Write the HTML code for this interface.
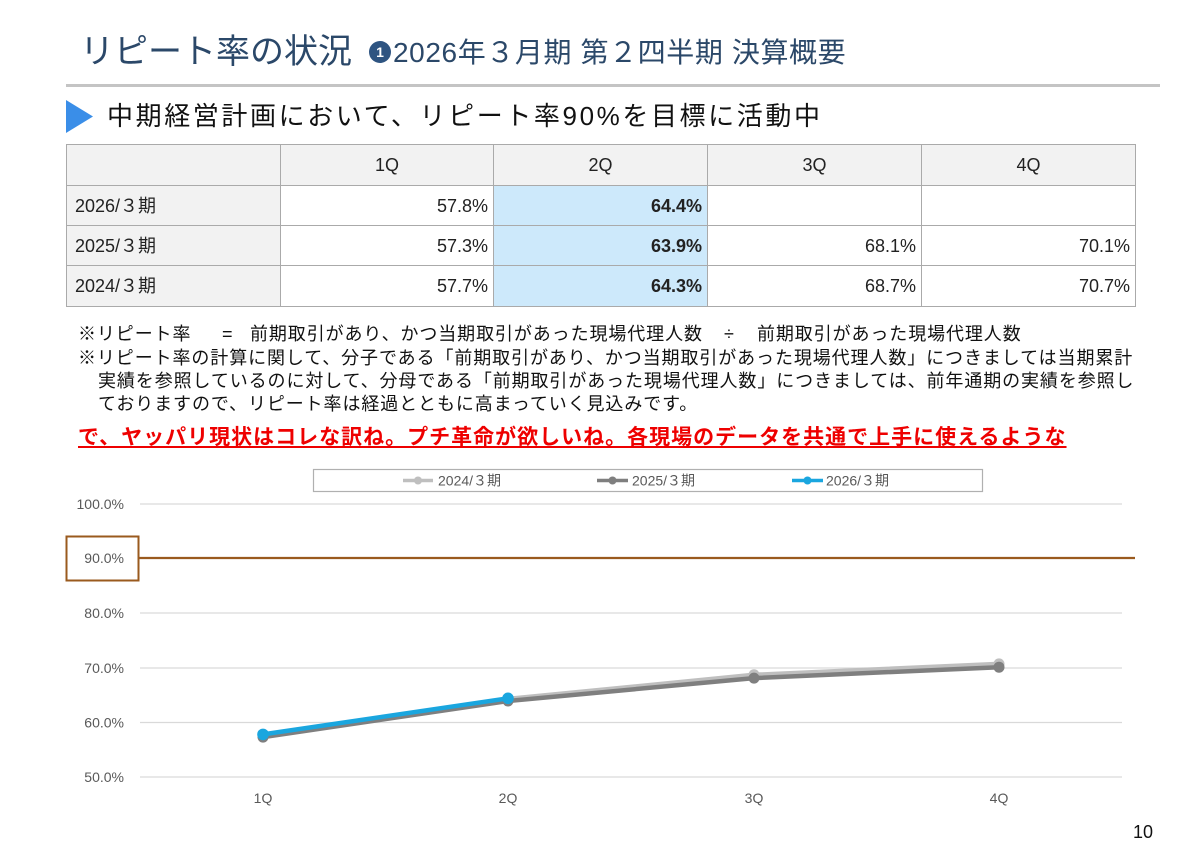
<!DOCTYPE html>
<html lang="ja">
<head>
<meta charset="utf-8">
<style>
  html,body{margin:0;padding:0;background:#fff;}
  #page{position:relative;width:1200px;height:849px;overflow:hidden;background:#fff;
    font-family:"Liberation Sans","Noto Sans CJK JP",sans-serif;color:#222;}
  .abs{position:absolute;white-space:nowrap;}
  .title{left:80px;top:30px;font-size:34px;line-height:44px;color:#2b4869;}
  .sub{left:393px;top:34px;font-size:28px;line-height:38px;color:#2b4869;letter-spacing:0.6px;}
  .circ{position:absolute;left:369px;top:41px;width:22px;height:22px;border-radius:50%;background:#2e5481;
    color:#fff;font-size:14px;font-weight:bold;line-height:22px;text-align:center;}
  .rule{position:absolute;left:66px;top:84px;width:1094px;height:3px;background:#c4c4c4;}
  .head2{left:107px;top:99px;font-size:26px;line-height:34px;color:#111;letter-spacing:2.6px;}
  table{position:absolute;left:66px;top:144px;border-collapse:collapse;table-layout:fixed;}
  td{border:1.5px solid #aaaaaa;font-size:18px;padding:0 5px;height:38px;line-height:38px;color:#222;overflow:hidden;white-space:nowrap;}
  td.h{background:#f2f2f2;text-align:center;}
  td.l{background:#f2f2f2;text-align:left;padding-left:8px;}
  td.n{text-align:right;background:#fff;}
  td.b{text-align:right;background:#cde9fb;font-weight:bold;}
  .note{font-size:18px;line-height:24px;color:#111;letter-spacing:0.9px;}
  .red{left:78px;top:424px;font-size:21px;line-height:28px;color:#ee0000;font-weight:bold;letter-spacing:1px;
    text-decoration:underline;text-decoration-thickness:2px;text-underline-offset:2px;}
  svg{position:absolute;left:0;top:0;}
</style>
</head>
<body>
<div id="page">
  <div class="abs title">リピート率の状況</div>
  <div class="circ">1</div>
  <div class="abs sub">2026年３月期 第２四半期 決算概要</div>
  <div class="rule"></div>

  <svg width="1200" height="849" viewBox="0 0 1200 849">
    <polygon points="66,100 93,116.5 66,133" fill="#3a8ee8"/>
  </svg>
  <div class="abs head2">中期経営計画において、リピート率90%を目標に活動中</div>

  <table>
    <colgroup><col style="width:214px"><col style="width:213px"><col style="width:214px"><col style="width:214px"><col style="width:214px"></colgroup>
    <tr style="height:41px"><td class="h"></td><td class="h">1Q</td><td class="h">2Q</td><td class="h">3Q</td><td class="h">4Q</td></tr>
    <tr style="height:40px"><td class="l">2026/３期</td><td class="n">57.8%</td><td class="b">64.4%</td><td class="n"></td><td class="n"></td></tr>
    <tr style="height:40px"><td class="l">2025/３期</td><td class="n">57.3%</td><td class="b">63.9%</td><td class="n">68.1%</td><td class="n">70.1%</td></tr>
    <tr style="height:41px"><td class="l">2024/３期</td><td class="n">57.7%</td><td class="b">64.3%</td><td class="n">68.7%</td><td class="n">70.7%</td></tr>
  </table>

  <div class="abs note" style="left:78px;top:322px;">※リピート率</div>
  <div class="abs note" style="left:222px;top:322px;">=</div>
  <div class="abs note" style="left:250px;top:322px;">前期取引があり、かつ当期取引があった現場代理人数</div>
  <div class="abs note" style="left:724px;top:322px;">÷</div>
  <div class="abs note" style="left:757px;top:322px;">前期取引があった現場代理人数</div>
  <div class="abs note" style="left:78px;top:346px;">※リピート率の計算に関して、分子である「前期取引があり、かつ当期取引があった現場代理人数」につきましては当期累計</div>
  <div class="abs note" style="left:98px;top:369px;">実績を参照しているのに対して、分母である「前期取引があった現場代理人数」につきましては、前年通期の実績を参照し</div>
  <div class="abs note" style="left:98px;top:392px;">ておりますので、リピート率は経過とともに高まっていく見込みです。</div>

  <div class="abs red">で、ヤッパリ現状はコレな訳ね。プチ革命が欲しいね。各現場のデータを共通で上手に使えるような</div>

  <svg width="1200" height="849" viewBox="0 0 1200 849" style="font-family:'Liberation Sans','Noto Sans CJK JP',sans-serif;">
    <!-- legend -->
    <rect x="313.5" y="469.5" width="669" height="22" fill="#fff" stroke="#b0b0b0" stroke-width="1.2"/>
    <line x1="403" y1="480.5" x2="433" y2="480.5" stroke="#bfbfbf" stroke-width="3.5"/>
    <circle cx="418" cy="480.5" r="4" fill="#bfbfbf"/>
    <text x="438" y="485.5" font-size="14" fill="#595959">2024/３期</text>
    <line x1="597" y1="480.5" x2="628" y2="480.5" stroke="#7f7f7f" stroke-width="3.5"/>
    <circle cx="612.5" cy="480.5" r="4" fill="#7f7f7f"/>
    <text x="632" y="485.5" font-size="14" fill="#595959">2025/３期</text>
    <line x1="792" y1="480.5" x2="823" y2="480.5" stroke="#1aa6df" stroke-width="3.5"/>
    <circle cx="807.5" cy="480.5" r="4" fill="#1aa6df"/>
    <text x="826" y="485.5" font-size="14" fill="#595959">2026/３期</text>

    <!-- gridlines -->
    <g stroke="#d9d9d9" stroke-width="1.3">
      <line x1="140" y1="504" x2="1122" y2="504"/>
      <line x1="140" y1="613" x2="1122" y2="613"/>
      <line x1="140" y1="668" x2="1122" y2="668"/>
      <line x1="140" y1="722.5" x2="1122" y2="722.5"/>
      <line x1="140" y1="777" x2="1122" y2="777"/>
    </g>
    <!-- 90% target line -->
    <line x1="139" y1="558" x2="1135" y2="558" stroke="#9a5a1e" stroke-width="2.2"/>
    <rect x="66.5" y="536.5" width="72" height="44" fill="#fff" stroke="#9a5a1e" stroke-width="2"/>

    <!-- y labels -->
    <g font-size="14" fill="#595959" text-anchor="end">
      <text x="124" y="509">100.0%</text>
      <text x="124" y="563">90.0%</text>
      <text x="124" y="618">80.0%</text>
      <text x="124" y="673">70.0%</text>
      <text x="124" y="727.5">60.0%</text>
      <text x="124" y="782">50.0%</text>
    </g>
    <!-- x labels -->
    <g font-size="14" fill="#595959" text-anchor="middle">
      <text x="263" y="803">1Q</text>
      <text x="508" y="803">2Q</text>
      <text x="754" y="803">3Q</text>
      <text x="999" y="803">4Q</text>
    </g>

    <!-- series 2024 -->
    <polyline points="263,734.9 508,698.9 754,674.8 999,663.9" fill="none" stroke="#bfbfbf" stroke-width="4.5" stroke-linejoin="round"/>
    <g fill="#bfbfbf">
      <circle cx="263" cy="734.9" r="5.5"/><circle cx="508" cy="698.9" r="5.5"/>
      <circle cx="754" cy="674.8" r="5.5"/><circle cx="999" cy="663.9" r="5.5"/>
    </g>
    <!-- series 2025 -->
    <polyline points="263,737.1 508,701 754,678.1 999,667.2" fill="none" stroke="#7f7f7f" stroke-width="4.5" stroke-linejoin="round"/>
    <g fill="#7f7f7f">
      <circle cx="263" cy="737.1" r="5.5"/><circle cx="508" cy="701" r="5.5"/>
      <circle cx="754" cy="678.1" r="5.5"/><circle cx="999" cy="667.2" r="5.5"/>
    </g>
    <!-- series 2026 -->
    <polyline points="263,734.4 508,698.3" fill="none" stroke="#1aa6df" stroke-width="4.5" stroke-linejoin="round"/>
    <g fill="#1aa6df">
      <circle cx="263" cy="734.4" r="5.8"/><circle cx="508" cy="698.3" r="5.8"/>
    </g>

    <text x="1133" y="838" font-size="18" fill="#111">10</text>
  </svg>
</div>
</body>
</html>
